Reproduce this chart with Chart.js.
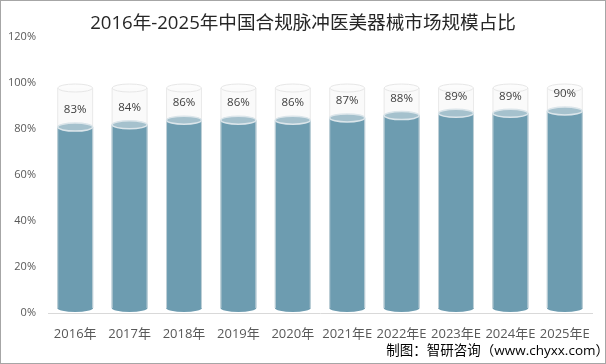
<!DOCTYPE html>
<html><head><meta charset="utf-8">
<script src="https://cdn.jsdelivr.net/npm/chart.js@4"></script>
<style>html,body{margin:0;padding:0;background:#fff}#wrap{width:606px;height:364px;position:relative}</style>
</head><body><div id="wrap"><canvas id="c" width="606" height="364"></canvas></div>
<script>
const chartTitle = '2016年-2025年中国合规脉冲医美器械市场规模占比';
const sourceNote = '制图：智研咨询（www.chyxx.com）';
const categories = ['2016年','2017年','2018年','2019年','2020年','2021年E','2022年E','2023年E','2024年E','2025年E'];
const shareValues = [83,84,86,86,86,87,88,89,89,90];
const yTickValues = [0,20,40,60,80,100,120];
const fullLevel = 100;

const FONT = '"Open Sans","Noto Sans CJK SC",sans-serif';

function ellipse(ctx, cx, cy, rx, ry) {
  ctx.beginPath();
  ctx.ellipse(cx, cy, rx, ry, 0, 0, Math.PI * 2);
}

const cylinderPlugin = {
  id: 'cylinders',
  afterDatasetsDraw(chart) {
    const ctx = chart.ctx;
    const meta = chart.getDatasetMeta(0);
    const y = chart.scales.y;
    const ry = 4, off = 5;
    const base = y.getPixelForValue(0) - ry - 1;
    ctx.save();
    meta.data.forEach((bar, i) => {
      const w = bar.width, rx = w / 2, cx = bar.x;
      const fullTop = y.getPixelForValue(fullLevel) + off;
      const top = y.getPixelForValue(shareValues[i]) + off;
      ctx.fillStyle = 'rgba(246,246,246,0.55)';
      ctx.fillRect(cx - rx, fullTop, w, top - fullTop);
      ctx.strokeStyle = '#e9e9e9';
      ctx.lineWidth = 1;
      ctx.beginPath();
      ctx.moveTo(cx - rx + 0.5, fullTop); ctx.lineTo(cx - rx + 0.5, top);
      ctx.moveTo(cx + rx - 0.5, fullTop); ctx.lineTo(cx + rx - 0.5, top);
      ctx.stroke();
      ellipse(ctx, cx, fullTop, rx - 0.5, ry);
      ctx.fillStyle = 'rgba(252,252,252,0.9)';
      ctx.fill();
      ctx.strokeStyle = '#e6e6e6';
      ctx.stroke();
      ctx.fillStyle = '#6d9cb0';
      ctx.beginPath();
      ctx.moveTo(cx - rx, top);
      ctx.lineTo(cx - rx, base);
      ctx.ellipse(cx, base, rx, ry, 0, Math.PI, 0, true);
      ctx.lineTo(cx + rx, top);
      ctx.closePath();
      ctx.fill();
      ctx.strokeStyle = 'rgba(215,222,226,0.8)';
      ctx.lineWidth = 1;
      ctx.beginPath();
      ctx.moveTo(cx - rx + 0.5, top); ctx.lineTo(cx - rx + 0.5, base);
      ctx.moveTo(cx + rx - 0.5, top); ctx.lineTo(cx + rx - 0.5, base);
      ctx.stroke();
      ellipse(ctx, cx, top, rx - 0.5, ry);
      ctx.fillStyle = '#a5c1cd';
      ctx.fill();
      ctx.strokeStyle = '#dbe5ea';
      ctx.lineWidth = 1.5;
      ctx.stroke();
      ctx.fillStyle = '#404040';
      ctx.font = '11.5px ' + FONT;
      ctx.textAlign = 'center';
      ctx.textBaseline = 'middle';
      ctx.fillText(shareValues[i] + '%', cx, y.getPixelForValue(shareValues[i]) - 12);
    });
    ctx.restore();
  },
  afterDraw(chart) {
    const ctx = chart.ctx;
    ctx.save();
    ctx.fillStyle = '#262626';
    ctx.font = '18.6px ' + FONT;
    ctx.textAlign = 'center';
    ctx.textBaseline = 'middle';
    ctx.fillText(chartTitle, 303, 24);
    ctx.fillStyle = '#000000';
    ctx.font = '13.5px ' + FONT;
    ctx.textAlign = 'right';
    ctx.fillText(sourceNote, 609, 351);
    ctx.strokeStyle = '#a6a6a6';
    ctx.lineWidth = 1;
    ctx.strokeRect(0.5, 0.5, 605, 363);
    ctx.restore();
  }
};

new Chart(document.getElementById('c'), {
  type: 'bar',
  data: {
    labels: categories,
    datasets: [{
      data: shareValues,
      backgroundColor: 'rgba(0,0,0,0)',
      borderWidth: 0,
      barPercentage: 0.66,
      categoryPercentage: 1
    }]
  },
  options: {
    responsive: false,
    animation: false,
    devicePixelRatio: 1,
    layout: { padding: { top: 37, right: 14, left: 0, bottom: 0 } },
    plugins: { legend: { display: false }, tooltip: { enabled: false }, title: { display: false } },
    scales: {
      y: {
        min: 0, max: 120,
        afterBuildTicks(scale) { scale.ticks = yTickValues.map(v => ({ value: v })); },
        afterFit(scale) { scale.width = 48; },
        ticks: { callback: v => v + '%', color: '#595959', font: { size: 11, family: FONT }, padding: 12 },
        grid: { display: false, drawTicks: false },
        border: { display: false }
      },
      x: {
        afterFit(scale) { scale.height = 51; },
        ticks: { color: '#595959', font: { size: 13, family: FONT }, maxRotation: 0, autoSkip: false, padding: 13 },
        grid: { display: false, drawTicks: false },
        border: { display: true, color: '#d9d9d9', width: 1 }
      }
    }
  },
  plugins: [cylinderPlugin]
});
</script>
</body></html>
